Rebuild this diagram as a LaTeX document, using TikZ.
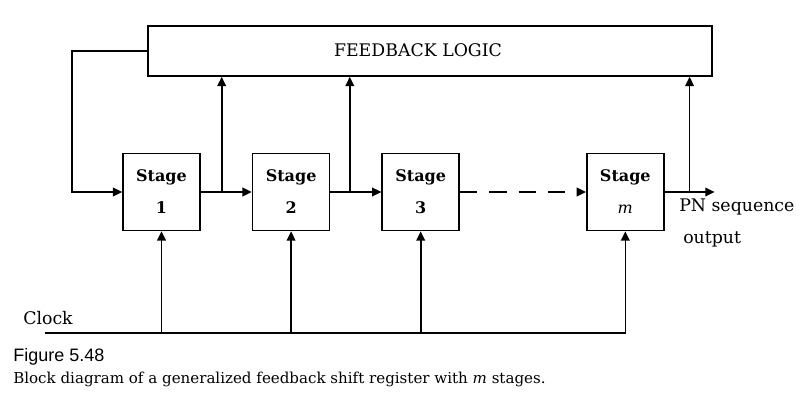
\documentclass[tikz,border=0pt]{standalone}
\usepackage{fontspec}
\setmainfont{DejaVu Serif}
\newfontfamily\figsans{Liberation Sans}
\usetikzlibrary{arrows,arrows.meta,positioning,calc}
\tikzset{
  stagebox/.style={draw, line width=1.2pt, minimum width=57.75pt, minimum height=57.75pt,
                   align=center, inner sep=0pt, font=\fontsize{12}{24}\selectfont\bfseries},
  logicbox/.style={draw, line width=1.2pt, minimum width=423pt, minimum height=37.5pt},
  flow/.style    ={-{Triangle[length=7pt,width=6.5pt]}, line width=1.2pt},
  lbl/.style     ={font=\fontsize{13}{24}\selectfont, align=left, inner sep=0pt},
}
\begin{document}
\begin{tikzpicture}[x=0.75pt,y=-0.75pt,node distance=38.25pt]
  \useasboundingbox (0,0) rectangle (804,406);
  \node[logicbox] (logic) at (430,51) {};
  \node[lbl] (logictxt) at (418,50) {FEEDBACK LOGIC};
  \node[stagebox] (s1) at (161.5,192) {Stage\\1};
  \node[stagebox, right=of s1] (s2) {Stage\\2};
  \node[stagebox, right=of s2] (s3) {Stage\\3};
  \node[stagebox, right=94.5pt of s3] (sm) {Stage\\{\normalfont\itshape m}};
  \coordinate[right=37.5pt of sm.east] (out);
  \coordinate (t1) at ($(s1.east)!0.41!(s2.west)$);
  \coordinate (t2) at ($(s2.east)!0.38!(s3.west)$);
  \coordinate (t3) at ($(sm.east)!0.5!(out)$);
  \coordinate (clk) at (45,333);
  % shift path
  \draw[flow] (logic.west) -- ++(-75,0) |- (s1.west);
  \draw[flow] (s1) -- (s2);
  \draw[flow] (s2) -- (s3);
  \draw[flow, dash pattern=on 13pt off 9pt] (s3) -- (sm);
  \draw[flow] (sm) -- (out);
  % taps to the logic
  \draw[flow] (t1) -- (t1 |- logic.south);
  \draw[flow] (t2) -- (t2 |- logic.south);
  \draw[flow] (t3) -- (t3 |- logic.south);
  % clock
  \draw[flow] (clk) -| (sm.south);
  \draw[flow] (s1.south |- clk) -- (s1.south);
  \draw[flow] (s2.south |- clk) -- (s2.south);
  \draw[flow] (s3.south |- clk) -- (s3.south);
  \node[lbl, anchor=west] (clklbl) at (23,318) {Clock};
  \node[lbl, anchor=north west] (outlbl) at (679,199) {PN sequence\\\hspace*{3pt}output};
  % caption
  \node[anchor=west, inner sep=0pt, font=\figsans\fontsize{13.5}{14}\selectfont] (fig) at (13,357) {Figure 5.48};
  \node[anchor=west, inner sep=0pt, font=\fontsize{11.3}{13}\selectfont] (cap) at (13,379)
    {Block diagram of a generalized feedback shift register with \textit{m} stages.};
\end{tikzpicture}
\end{document}
